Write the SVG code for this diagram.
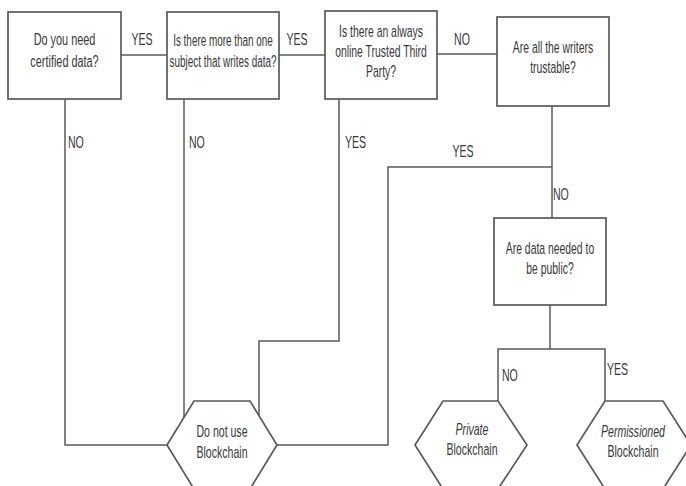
<svg xmlns="http://www.w3.org/2000/svg" width="686" height="486" viewBox="0 0 686 486">
  <style>
    .box { fill: #ffffff; stroke: #5a5a5a; stroke-width: 1.7; }
    .wire { fill: none; stroke: #5a5a5a; stroke-width: 1.5; }
    text { font-family: "Liberation Sans", Arial, sans-serif; font-size: 16px; fill: #383838; }
    .c { text-anchor: middle; }
    .it { font-style: italic; }
  </style>
  <rect width="686" height="486" fill="#ffffff"/>

  <!-- connectors -->
  <g id="connectors">
    <path class="wire" d="M121 55 H167"/>
    <path class="wire" d="M279 55 H325"/>
    <path class="wire" d="M437 54 H497"/>
    <path class="wire" d="M65 99 V445 H167"/>
    <path class="wire" d="M184 99 V417"/>
    <path class="wire" d="M339 99 V341 H259 V416"/>
    <path class="wire" d="M552 106 V218"/>
    <path class="wire" d="M552 167 H388 V445 H277"/>
    <path class="wire" d="M550 305 V349"/>
    <path class="wire" d="M498 401 V349 H605 V401"/>
  </g>

  <!-- connector labels (condensed text) -->
  <g id="labels">
    <text class="c" transform="translate(142 45) scale(0.66 1)">YES</text>
    <text class="c" transform="translate(297 45) scale(0.66 1)">YES</text>
    <text class="c" transform="translate(462 45) scale(0.66 1)">NO</text>
    <text transform="translate(68 148) scale(0.66 1)">NO</text>
    <text transform="translate(189 148) scale(0.66 1)">NO</text>
    <text transform="translate(345 148) scale(0.66 1)">YES</text>
    <text class="c" transform="translate(463 157) scale(0.66 1)">YES</text>
    <text transform="translate(553 200) scale(0.66 1)">NO</text>
    <text transform="translate(502 381) scale(0.66 1)">NO</text>
    <text transform="translate(607 375) scale(0.66 1)">YES</text>
  </g>

  <g id="q-certified">
    <rect class="box" x="8" y="12" width="113" height="87"/>
    <text class="c" transform="translate(64.5 0) scale(0.68 1)"><tspan x="0" y="45">Do you need</tspan><tspan x="0" y="67">certified data?</tspan></text>
  </g>

  <g id="q-writers">
    <rect class="box" x="167" y="12" width="112" height="87"/>
    <text class="c" transform="translate(223 0) scale(0.62 1)"><tspan x="0" y="46">Is there more than one</tspan><tspan x="0" y="67">subject that writes data?</tspan></text>
  </g>

  <g id="q-ttp">
    <rect class="box" x="325" y="11" width="112" height="88"/>
    <text class="c" transform="translate(381 0) scale(0.65 1)"><tspan x="0" y="37">Is there an always</tspan><tspan x="0" y="57">online Trusted Third</tspan><tspan x="0" y="77">Party?</tspan></text>
  </g>

  <g id="q-trustable">
    <rect class="box" x="497" y="17" width="112" height="89"/>
    <text class="c" transform="translate(553 0) scale(0.65 1)"><tspan x="0" y="53">Are all the writers</tspan><tspan x="0" y="73">trustable?</tspan></text>
  </g>

  <g id="q-public">
    <rect class="box" x="494" y="218" width="112" height="87"/>
    <text class="c" transform="translate(550 0) scale(0.65 1)"><tspan x="0" y="254">Are data needed to</tspan><tspan x="0" y="274">be public?</tspan></text>
  </g>

  <g id="r-no-blockchain">
    <polygon class="box" points="167,445 194,401 250,401 277,445 250,489 194,489"/>
    <text class="c" transform="translate(222 0) scale(0.66 1)"><tspan x="0" y="437">Do not use</tspan><tspan x="0" y="458">Blockchain</tspan></text>
  </g>

  <g id="r-private">
    <polygon class="box" points="415,445 443,401 498,401 527,445 498,489 443,489"/>
    <text class="c" transform="translate(472 0) scale(0.66 1)"><tspan class="it" x="0" y="435">Private</tspan><tspan x="0" y="455">Blockchain</tspan></text>
  </g>

  <g id="r-permissioned">
    <polygon class="box" points="577,445 605,401 663,401 691,445 663,489 605,489"/>
    <text class="c" transform="translate(633 0) scale(0.66 1)"><tspan class="it" x="0" y="437">Permissioned</tspan><tspan x="0" y="457">Blockchain</tspan></text>
  </g>
</svg>
